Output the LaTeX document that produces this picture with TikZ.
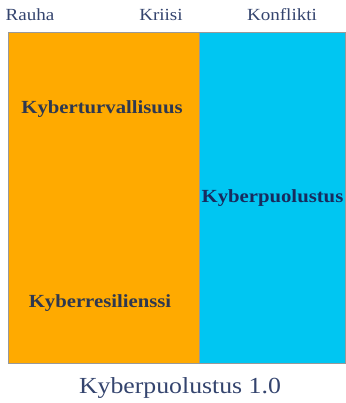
\documentclass[tikz,border=0pt]{standalone}
\usepackage{fontspec}
\setmainfont{Liberation Serif}[FakeStretch=1.12]
\usepackage{tikz}
\usetikzlibrary{positioning}
\definecolor{zoneorange}{HTML}{FFAA00}
\definecolor{zonecyan}{HTML}{00C6F2}
\definecolor{inktext}{HTML}{34446E}
\definecolor{inkdark}{HTML}{2E3850}
\definecolor{inknavy}{HTML}{182B5E}
\begin{document}
\begin{tikzpicture}[
    x=1pt, y=-1pt,
    phase/.style={anchor=base, text=inktext, inner sep=0pt, font=\fontsize{17}{20}\selectfont},
    zone/.style={draw=gray!80, line width=0.8pt, anchor=north west, inner sep=0pt},
    term/.style={anchor=base, inner sep=0pt, font=\bfseries\fontsize{18.5}{22}\selectfont}
]
\useasboundingbox (0,0) rectangle (345,403);
% zones
\node[zone, fill=zoneorange, minimum width=191pt, minimum height=331pt] (peace) at (8,32) {};
\node[zone, fill=zonecyan, minimum width=145.5pt, minimum height=331pt] (war) at (199,32) {};
% phase labels
\node[phase] (rauha) at (30,20.5) {Rauha};
\node[phase] (kriisi) at (161,20.5) {Kriisi};
\node[phase] (konflikti) at (282,20.5) {Konflikti};
% terms
\node[term, text=inkdark] (turva) at (102,114) {Kyberturvallisuus};
\node[term, text=inknavy] (puolustus) at (272.5,202) {Kyberpuolustus};
\node[term, text=inkdark] (resilienssi) at (100,307) {Kyberresilienssi};
% caption
\node[anchor=base, inner sep=0pt, text=inktext, font=\fontsize{23}{27}\selectfont] (caption) at (180,393) {Kyberpuolustus 1.0};
\end{tikzpicture}
\end{document}
